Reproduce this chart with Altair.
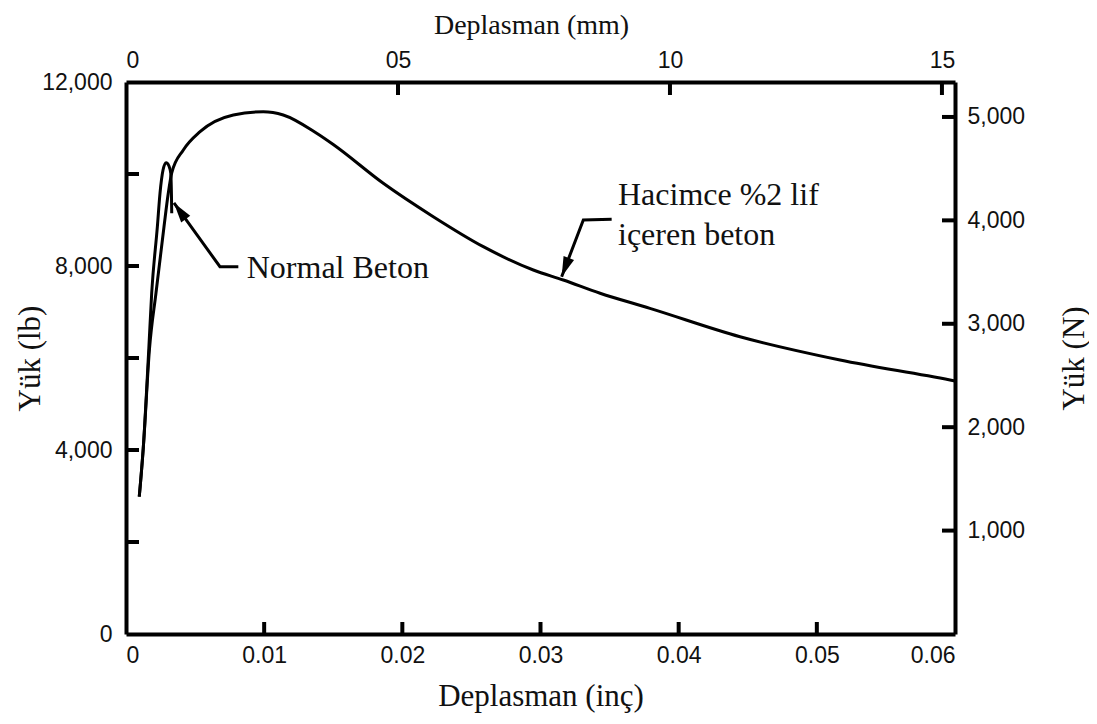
import altair as alt
import pandas as pd

# ---- data (x in inches, y in lb) ----
fiber_x = [0.00096, 0.00125, 0.00170, 0.00217, 0.00275, 0.00306, 0.00331, 0.00415, 0.00536,
           0.00777, 0.00994, 0.01138, 0.01380, 0.01500, 0.01862, 0.02224, 0.02586, 0.02948,
           0.03165, 0.03431, 0.03792, 0.04444, 0.05168, 0.05964, 0.06000]
fiber_y = [2985, 4043, 6200, 7413, 8854, 9580, 10022, 10522, 10920,
           11283, 11354, 11283, 10885, 10640, 9798, 9072, 8420, 7913,
           7696, 7407, 7080, 6463, 5957, 5522, 5500]

normal_x = [0.00096, 0.00125, 0.00165, 0.00186, 0.00227, 0.00246, 0.00268, 0.00290, 0.00311,
            0.00324, 0.00329, 0.00331]
normal_y = [2985, 4043, 6200, 7413, 8854, 9580, 10087, 10246, 10174,
            10015, 9543, 9146]

# annotation arrows (data coords): corner -> tip
arrow_id = ["n", "n", "n", "h", "h", "h"]
arrow_x = [0.00813, 0.00680, 0.00347, 0.03515, 0.03310, 0.03153]
arrow_y = [7985, 7985, 9370, 9015, 9000, 7767]
head_x = [0.00347, 0.03153]
head_y = [9370, 7767]
head_angle = [324, 201]

label_text = ["Normal Beton", "Hacimce %2 lif", "içeren beton"]
label_x = [0.00874, 0.03561, 0.03561]
label_y = [7739, 9326, 8457]

lb_ticks = [0, 4000, 8000, 12000]
lb_minor = [2000, 4000, 6000, 8000, 10000]
in_ticks = [0, 0.01, 0.02, 0.03, 0.04, 0.05, 0.06]
in_minor = [0.01, 0.02, 0.03, 0.04, 0.05]
mm_ticks = [0, 5, 10, 15]
mm_minor = [5, 10, 15]
n_ticks = [1000, 2000, 3000, 4000, 5000]

X_DOM = [0, 0.06]
Y_DOM = [0, 12000]
MM_DOM = [0, 0.06 * 254]          # axis in 0.1 mm units
N_DOM = [0, 12000 / 2.248]        # axis in 10 N units

W, H = 829, 552
SANS = "Liberation Sans, Arial, sans-serif"
SERIF = "Liberation Serif, Times New Roman, serif"

curves = pd.DataFrame({
    "x": fiber_x + normal_x,
    "y": fiber_y + normal_y,
    "s": ["fiber"] * len(fiber_x) + ["normal"] * len(normal_x),
    "o": list(range(len(fiber_x))) + list(range(len(normal_x))),
})
arrows = pd.DataFrame({"id": arrow_id, "x": arrow_x, "y": arrow_y, "o": list(range(len(arrow_x)))})
heads = pd.DataFrame({"x": head_x, "y": head_y, "a": head_angle})
labels = pd.DataFrame({"t": label_text, "x": label_x, "y": label_y})

xs = alt.Scale(domain=X_DOM, nice=False, zero=False)
ys = alt.Scale(domain=Y_DOM, nice=False, zero=False)

x_axis = alt.Axis(
    orient="bottom", values=in_ticks, ticks=False, grid=False,
    labelExpr="datum.value == 0 ? '0' : format(datum.value, '.2f')",
    labelFont=SANS, labelFontSize=23, labelColor="#111", labelPadding=10,
    domainColor="#000", domainWidth=4,
    title="Deplasman (inç)", titleFont=SERIF, titleFontSize=31, titleFontWeight="normal",
    titleColor="#111", titleBaseline="alphabetic", titleY=71, titleX=W / 2,
)
y_axis = alt.Axis(
    orient="left", values=lb_ticks, ticks=False, grid=False,
    labelExpr="format(datum.value, ',')",
    labelFont=SANS, labelFontSize=23, labelColor="#111", labelPadding=14,
    domainColor="#000", domainWidth=4,
    title="Yük (lb)", titleFont=SERIF, titleFontSize=31, titleFontWeight="normal",
    titleColor="#111", titleAngle=270, titleBaseline="alphabetic", titleX=-87, titleY=H / 2,
    titleAlign="center",
)

X = lambda f: alt.X(f, scale=xs, axis=x_axis)
Y = lambda f: alt.Y(f, scale=ys, axis=y_axis)

base_curves = alt.Chart(curves).mark_line(color="#000", strokeWidth=3, interpolate="monotone").encode(
    x=X("x:Q"), y=Y("y:Q"), detail="s:N", order="o:Q",
)

arrow_lines = alt.Chart(arrows).mark_line(color="#000", strokeWidth=3).encode(
    x=X("x:Q"), y=Y("y:Q"), detail="id:N", order="o:Q",
)

arrow_heads = alt.Chart(heads).mark_point(
    shape="M0,0L-0.28,1L0.28,1Z", size=1600, filled=True, color="#000", opacity=1
).encode(
    x=X("x:Q"), y=Y("y:Q"), angle=alt.Angle("a:Q", scale=None),
)

texts = alt.Chart(labels).mark_text(
    font=SERIF, fontSize=32, color="#111", align="left", baseline="alphabetic"
).encode(
    x=X("x:Q"), y=Y("y:Q"), text="t:N",
)

left_ticks = alt.Chart(pd.DataFrame({"v": lb_minor})).mark_rule(color="#000", strokeWidth=4).encode(
    y=Y("v:Q"), x=alt.value(0), x2=alt.value(13),
)
bottom_ticks = alt.Chart(pd.DataFrame({"v": in_minor})).mark_rule(color="#000", strokeWidth=4).encode(
    x=X("v:Q"), y=alt.value(H - 12), y2=alt.value(H),
)

main = alt.layer(base_curves, arrow_lines, arrow_heads, texts, left_ticks, bottom_ticks)

# top axis (tenths of mm)
mms = alt.Scale(domain=MM_DOM, nice=False, zero=False)
top_axis = alt.Axis(
    orient="top", values=mm_ticks, ticks=False, grid=False,
    labelExpr="datum.value == 5 ? '05' : format(datum.value, 'd')",
    labelFont=SANS, labelFontSize=23, labelColor="#111", labelPadding=10,
    domainColor="#000", domainWidth=4,
    title="Deplasman (mm)", titleFont=SERIF, titleFontSize=28, titleFontWeight="normal",
    titleColor="#111", titleBaseline="alphabetic", titleY=-49, titleX=405,
)
top_layer = alt.Chart(pd.DataFrame({"v": mm_minor})).mark_rule(color="#000", strokeWidth=4).encode(
    x=alt.X("v:Q", scale=mms, axis=top_axis),
    y=alt.value(0), y2=alt.value(13),
)

# right axis (tens of N)
ns = alt.Scale(domain=N_DOM, nice=False, zero=False)
right_axis = alt.Axis(
    orient="right", values=n_ticks, ticks=False, grid=False,
    labelExpr="format(datum.value, ',')",
    labelFont=SANS, labelFontSize=23, labelColor="#111", labelPadding=12,
    domainColor="#000", domainWidth=4,
    title="Yük (N)", titleFont=SERIF, titleFontSize=31, titleFontWeight="normal",
    titleColor="#111", titleAngle=270, titleBaseline="alphabetic", titleX=128, titleY=H / 2,
    titleAlign="center",
)
right_layer = alt.Chart(pd.DataFrame({"v": n_ticks})).mark_rule(color="#000", strokeWidth=4).encode(
    y=alt.Y("v:Q", scale=ns, axis=right_axis),
    x=alt.value(W - 13), x2=alt.value(W),
)

chart = alt.layer(main, top_layer, right_layer).resolve_scale(
    x="independent", y="independent"
).properties(
    width=W, height=H,
    padding={"left": 118, "top": 74, "right": 134, "bottom": 82},
    autosize=alt.AutoSizeParams(type="none"),
    background="white",
).configure_view(stroke=None)

chart.save("out.html", embed_options={"renderer": "svg", "actions": False})
